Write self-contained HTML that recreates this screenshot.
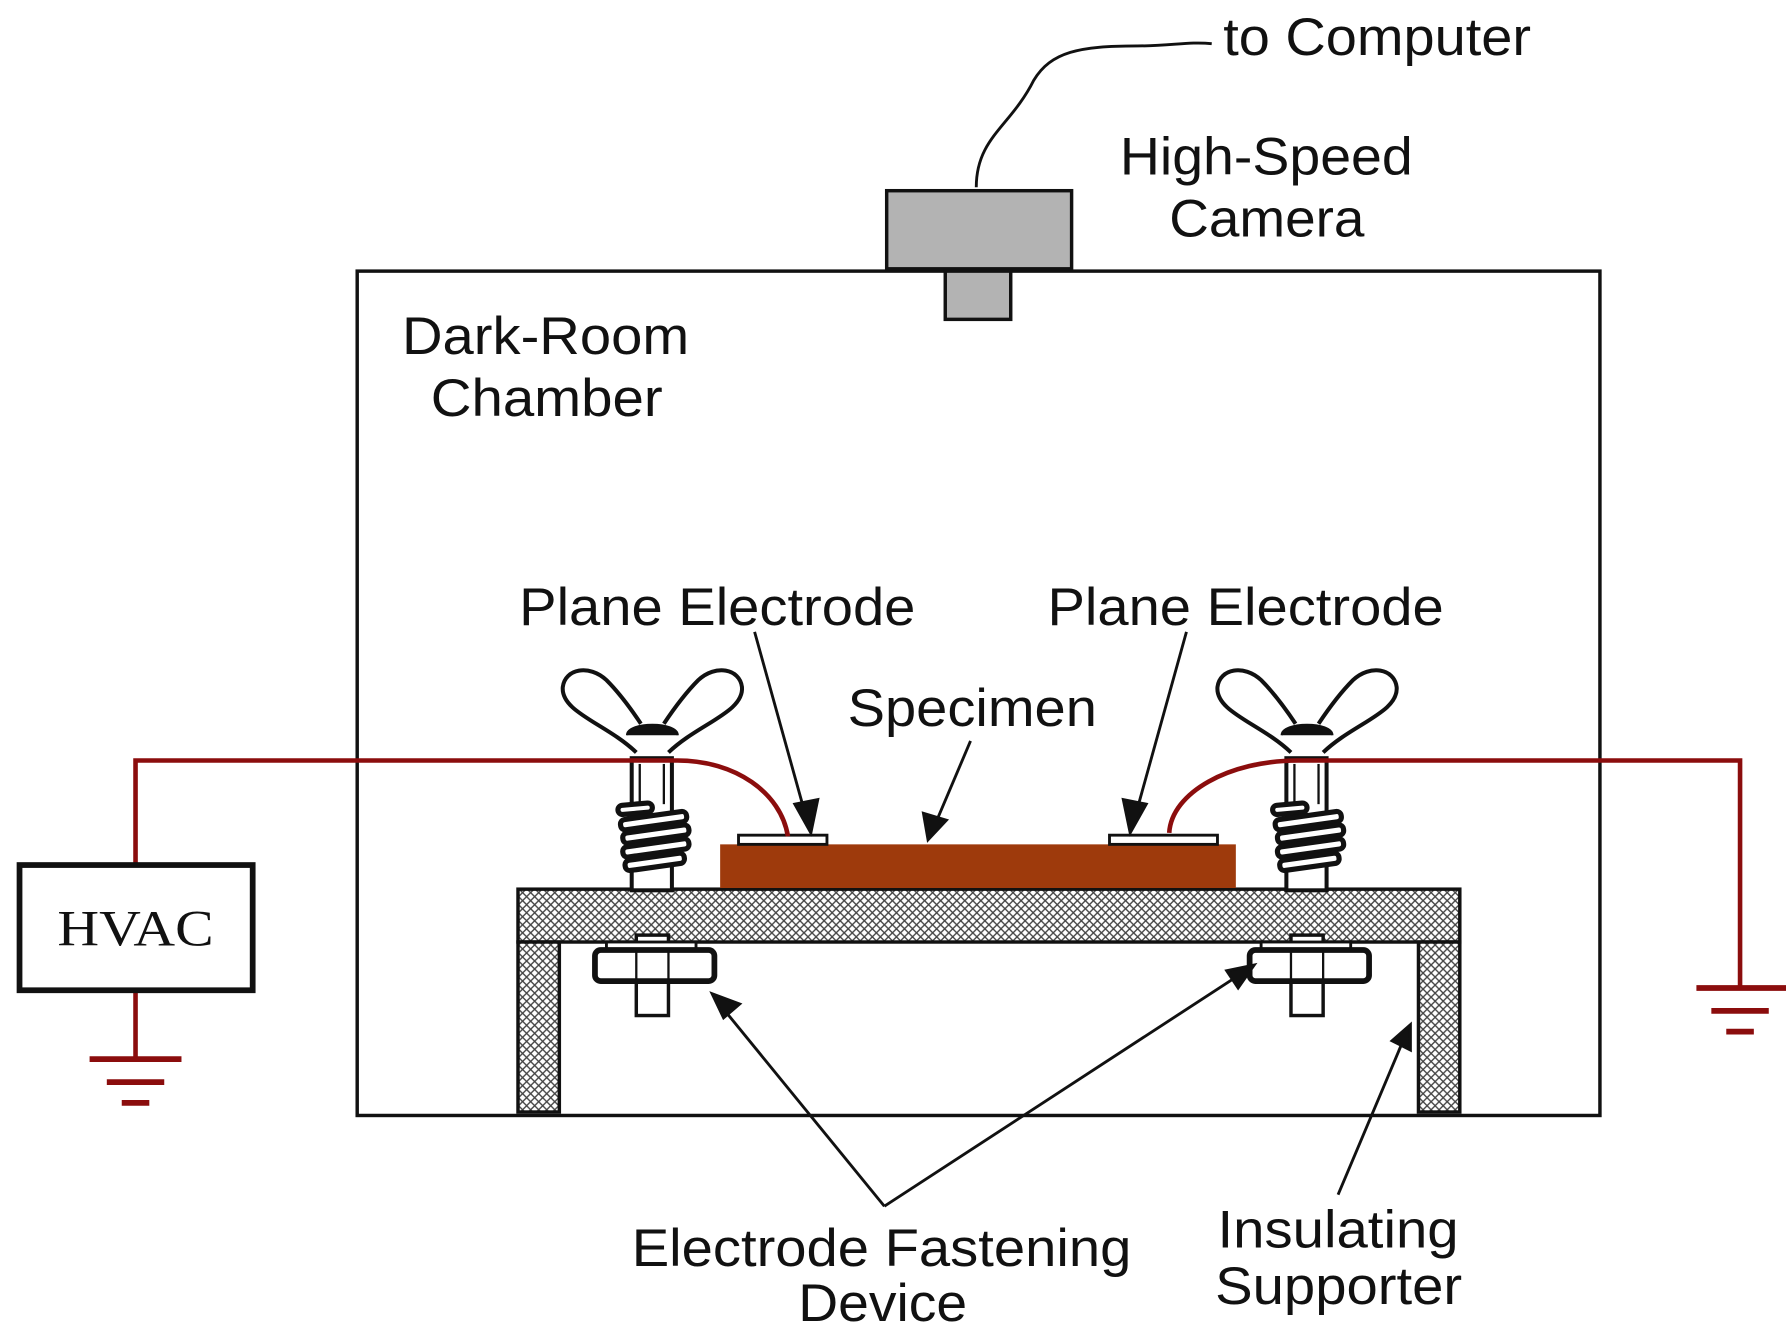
<!DOCTYPE html>
<html><head><meta charset="utf-8"><style>
html,body{margin:0;padding:0;background:#fff;}
svg{display:block;}
text{font-family:"Liberation Sans",Arial,sans-serif;fill:#111;}
</style></head><body>
<svg width="1786" height="1328" viewBox="0 0 1555 1156" preserveAspectRatio="none" xmlns="http://www.w3.org/2000/svg">
<defs>
<pattern id="hatch" width="7" height="7" patternUnits="userSpaceOnUse">
<rect width="7" height="7" fill="#fff"/>
<path d="M0,0 L7,7 M7,0 L0,7" stroke="#444" stroke-width="1.2"/>
</pattern>
</defs>

<!-- chamber -->
<rect x="311" y="236" width="1082" height="735" fill="none" stroke="#111" stroke-width="3"/>

<!-- camera -->
<path d="M850,163 C850,120 880,110 900,70 C915,45 940,40 990,40 C1020,40 1035,36 1055,38" fill="none" stroke="#111" stroke-width="2.5"/>
<rect x="772" y="166" width="161" height="68" fill="#b3b3b3" stroke="#111" stroke-width="3"/>
<rect x="823" y="236" width="57" height="42" fill="#b3b3b3" stroke="#111" stroke-width="3"/>
<g font-size="46" lengthAdjust="spacingAndGlyphs">
<text x="1065" y="48" textLength="268" lengthAdjust="spacingAndGlyphs">to Computer</text>
<text x="975" y="152" textLength="255" lengthAdjust="spacingAndGlyphs">High-Speed</text>
<text x="1018" y="206" textLength="170" lengthAdjust="spacingAndGlyphs">Camera</text>
<text x="350" y="308" textLength="250" lengthAdjust="spacingAndGlyphs">Dark-Room</text>
<text x="375" y="362" textLength="202" lengthAdjust="spacingAndGlyphs">Chamber</text>
<text x="452" y="544" textLength="345" lengthAdjust="spacingAndGlyphs">Plane Electrode</text>
<text x="912" y="544" textLength="345" lengthAdjust="spacingAndGlyphs">Plane Electrode</text>
<text x="738" y="632" textLength="217" lengthAdjust="spacingAndGlyphs">Specimen</text>
<text x="550" y="1102" textLength="435" lengthAdjust="spacingAndGlyphs">Electrode Fastening</text>
<text x="695" y="1150" textLength="147" lengthAdjust="spacingAndGlyphs">Device</text>
<text x="1060" y="1086" textLength="210" lengthAdjust="spacingAndGlyphs">Insulating</text>
<text x="1058" y="1135" textLength="215" lengthAdjust="spacingAndGlyphs">Supporter</text>
</g>

<!-- table -->
<rect x="451" y="774" width="820" height="46" fill="url(#hatch)" stroke="#111" stroke-width="3"/>
<rect x="451" y="820" width="36" height="148" fill="url(#hatch)" stroke="#111" stroke-width="3"/>
<rect x="1235" y="820" width="36" height="148" fill="url(#hatch)" stroke="#111" stroke-width="3"/>

<!-- specimen -->
<rect x="627" y="735" width="449" height="38" fill="#9e3a0c"/>
<rect x="643" y="727" width="77" height="8" fill="#fff" stroke="#111" stroke-width="2.5"/>
<rect x="966" y="727" width="94" height="8" fill="#fff" stroke="#111" stroke-width="2.5"/>

<!-- fasteners -->
<g id="f1" transform="translate(568,0)" stroke="#111" fill="#fff">
 <path d="M-14,655 C-40,630 -80,620 -78,598 C-76,582 -55,578 -40,592 C-30,602 -20,615 -10,630" stroke-width="3.5"/>
 <path d="M14,655 C40,630 80,620 78,598 C76,582 55,578 40,592 C30,602 20,615 10,630" stroke-width="3.5"/>
 <path d="M-22,640 C-22,628 22,628 22,640" fill="#111" stroke-width="2"/>
 <rect x="-18" y="660" width="35" height="115" stroke-width="3.5"/>
 <line x1="-11" y1="665" x2="-11" y2="700" stroke-width="2"/>
 <line x1="10" y1="665" x2="10" y2="700" stroke-width="2"/>
 <g stroke-width="4.5">
  <rect x="-30" y="700" width="30" height="8" rx="4" transform="rotate(-5 -15 704)"/>
  <rect x="-28" y="710" width="58" height="9" rx="4" transform="rotate(-8 0 714)"/>
  <rect x="-26" y="722" width="58" height="9" rx="4" transform="rotate(-8 0 726)"/>
  <rect x="-26" y="734" width="58" height="9" rx="4" transform="rotate(-8 0 738)"/>
  <rect x="-24" y="746" width="52" height="9" rx="4" transform="rotate(-8 0 750)"/>
 </g>
 <rect x="-14" y="814" width="28" height="70" stroke-width="3"/>
 <rect x="-40" y="820" width="78" height="7" stroke-width="2.5"/>
 <rect x="-50" y="827" width="104" height="27" rx="5" stroke-width="5"/>
 <line x1="-14" y1="827" x2="-14" y2="854" stroke-width="2"/>
 <line x1="14" y1="827" x2="14" y2="854" stroke-width="2"/>
</g>
<use href="#f1" transform="translate(570,0)"/>

<!-- red wires -->
<g fill="none" stroke="#8b0d0d" stroke-width="4">
 <path d="M118,753 L118,662 L590,662 C640,662 680,690 686,728"/>
 <path d="M1515,860 L1515,662 L1130,662 C1070,662 1020,690 1018,725"/>
 <path d="M118,862 L118,922"/>
 <path d="M78,922 L158,922 M93,942 L143,942 M106,960 L130,960" stroke-width="5"/>
 <path d="M1477,860 L1555,860 M1490,880 L1540,880 M1503,898 L1527,898" stroke-width="5"/>
</g>

<!-- HVAC -->
<rect x="17" y="753" width="203" height="109" fill="#fff" stroke="#111" stroke-width="5"/>
<text x="50" y="823" font-size="44" textLength="136" lengthAdjust="spacingAndGlyphs" style="font-family:'Liberation Serif',serif">HVAC</text>

<!-- arrows -->
<g stroke="#111" stroke-width="2.5" fill="#111">
 <line x1="657" y1="550" x2="702" y2="712"/>
 <polygon points="706,725 692,700 712,696"/>
 <line x1="1033" y1="550" x2="988" y2="712"/>
 <polygon points="984,725 978,696 998,700"/>
 <line x1="845" y1="645" x2="814" y2="718"/>
 <polygon points="808,731 804,708 824,714"/>
 <line x1="770" y1="1050" x2="628" y2="876"/>
 <polygon points="620,865 644,874 630,886"/>
 <line x1="770" y1="1050" x2="1080" y2="848"/>
 <polygon points="1092,840 1078,860 1068,845"/>
 <line x1="1165" y1="1040" x2="1222" y2="905"/>
 <polygon points="1228,892 1228,914 1212,906"/>
</g>
</svg>
</body></html>
